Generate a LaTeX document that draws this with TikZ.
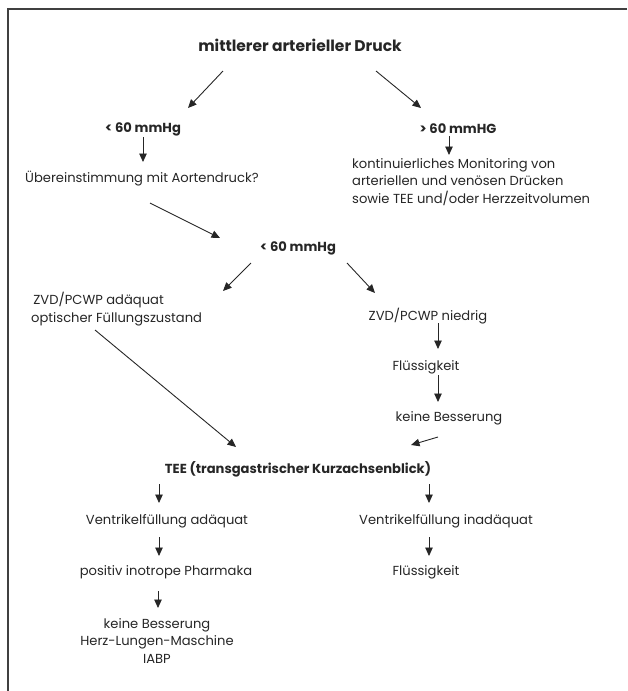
\documentclass[tikz,border=0pt]{standalone}
\usepackage{fontspec}
\setmainfont{Poppins}
\usetikzlibrary{arrows.meta}
\begin{document}
\begin{tikzpicture}[x=1pt,y=-1pt,
  txt/.style={font=\fontsize{13.1}{17.8}\selectfont, inner sep=0pt, text=black!85},
  btxt/.style={txt, font=\fontsize{13.1}{17.8}\selectfont\bfseries},
  arr/.style={-{Triangle[length=8.5pt,width=7.5pt]}, line width=0.9pt, draw=black!85},
  frame/.style={line width=1.6pt, draw=black!75}]
\useasboundingbox (0,0) rectangle (627,691);
\draw[frame] (627,9) -- (8,9) -- (8,691);
% nodes
\node[btxt, font=\fontsize{15.5}{18}\selectfont\bfseries] (title) at (300,45) {mittlerer arterieller Druck};
\node[btxt] (lt60) at (143,129) {< 60 mmHg};
\node[btxt] (gt60) at (458,129) {> 60 mmHG};
\node[txt, anchor=west] (ueber) at (25,179) {Übereinstimmung mit Aortendruck?};
\node[txt, anchor=west, align=left] (monitor) at (352,182) {kontinuierliches Monitoring von\\arteriellen und venösen Drücken\\sowie TEE und/oder Herzzeitvolumen};
\node[btxt] (mid60) at (298,248) {< 60 mmHg};
\node[txt, anchor=west, align=left] (zvdad) at (31,309) {\,ZVD/PCWP adäquat\\optischer Füllungszustand};
\node[txt] (zvdn) at (428,316) {ZVD/PCWP niedrig};
\node[txt] (fl1) at (426,367) {Flüssigkeit};
\node[txt] (kb1) at (449,418) {keine Besserung};
\node[btxt] (tee) at (298,469) {TEE (transgastrischer Kurzachsenblick)};
\node[txt] (vad) at (167,521) {Ventrikelfüllung adäquat};
\node[txt] (vinad) at (446,521) {Ventrikelfüllung inadäquat};
\node[txt] (pip) at (166,572) {positiv inotrope Pharmaka};
\node[txt] (fl2) at (426,572) {Flüssigkeit};
\node[txt, align=center] (kb2) at (157,641) {keine Besserung\\Herz-Lungen-Maschine\\IABP};
% connector end points
\coordinate (a1s) at (223,71);  \coordinate (a1e) at (188,108);
\coordinate (a2s) at (376,71);  \coordinate (a2e) at (421,108);
\coordinate (a3s) at (143,137); \coordinate (a3e) at (143,162);
\coordinate (a4s) at (449,136); \coordinate (a4e) at (449,155);
\coordinate (a5s) at (150,203); \coordinate (a5e) at (220,238);
\coordinate (a6s) at (251,263); \coordinate (a6e) at (223,291);
\coordinate (a7s) at (347,263); \coordinate (a7e) at (375,293);
\coordinate (a8s) at (438,323); \coordinate (a8e) at (438,349);
\coordinate (a9s) at (438,375); \coordinate (a9e) at (438,402);
\coordinate (a10s) at (95,330); \coordinate (a10e) at (236,447);
\coordinate (a11s) at (438,437); \coordinate (a11e) at (411,445);
\coordinate (a12s) at (159,484); \coordinate (a12e) at (159,503);
\coordinate (a13s) at (429,484); \coordinate (a13e) at (429,503);
\coordinate (a14s) at (159,537); \coordinate (a14e) at (159,556);
\coordinate (a15s) at (429,537); \coordinate (a15e) at (429,556);
\coordinate (a16s) at (158,591); \coordinate (a16e) at (158,608);
% connectors
\foreach \i in {1,...,16} {\draw[arr] (a\i s) -- (a\i e);}
\end{tikzpicture}
\end{document}
